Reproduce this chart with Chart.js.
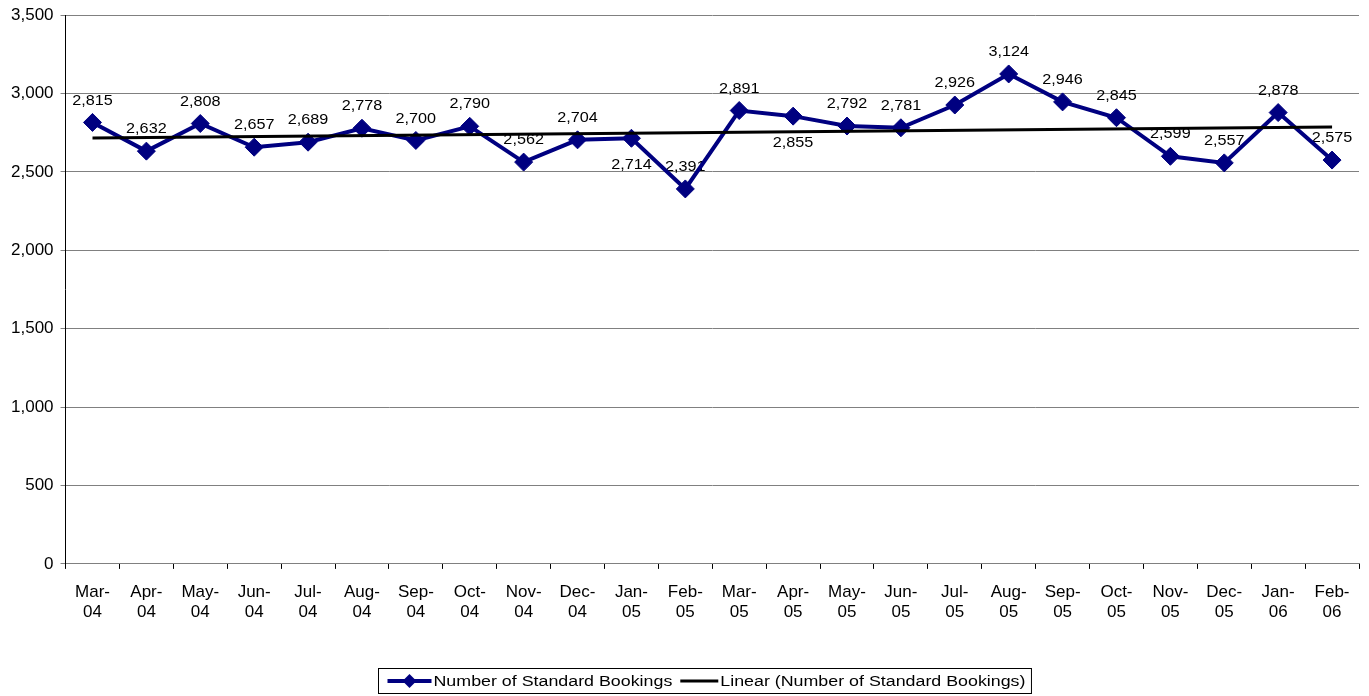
<!DOCTYPE html>
<html>
<head>
<meta charset="utf-8">
<script src="https://cdn.jsdelivr.net/npm/chart.js@4/dist/chart.umd.min.js"></script>
<style>
  html, body { margin: 0; padding: 0; background: #ffffff; }
  #wrap { width: 1369px; height: 696px; }
</style>
</head>
<body>
<div id="wrap"><canvas id="bookingsChart"></canvas></div>
<script>
// місяці (підписи осі X)
const months = [
    "Mar-04", "Apr-04", "May-04", "Jun-04", "Jul-04", "Aug-04",
    "Sep-04", "Oct-04", "Nov-04", "Dec-04", "Jan-05", "Feb-05",
    "Mar-05", "Apr-05", "May-05", "Jun-05", "Jul-05", "Aug-05",
    "Sep-05", "Oct-05", "Nov-05", "Dec-05", "Jan-06", "Feb-06",
];

// кількість стандартних бронювань
const bookings = [
    2815, 2632, 2808, 2657, 2689, 2778, 2700, 2790, 2562, 2704, 2714, 2391,
    2891, 2855, 2792, 2781, 2926, 3124, 2946, 2845, 2599, 2557, 2878, 2575,
];

// лінійний тренд: значення на початку і в кінці
const trendStart = 2716;
const trendEnd = 2786;

const yTicks = [0, 500, 1000, 1500, 2000, 2500, 3000, 3500];

const seriesLabel = "Number of Standard Bookings";
const trendLabel = "Linear (Number of Standard Bookings)";

const FONT = "Arial, 'Liberation Sans', sans-serif";

// текст трохи розтягнутий по горизонталі, як в оригіналі
function wideText(ctx, text, x, y, sx) {
    ctx.save();
    ctx.translate(x, y);
    ctx.scale(sx, 1);
    ctx.fillText(text, 0, 0);
    ctx.restore();
}

/**
 * Підписи значень над точками (малюються під лініями)
 */
const valueLabels = {
    id: "valueLabels",
    beforeDatasetsDraw(chart, args, opts) {
        const ctx = chart.ctx;
        const meta = chart.getDatasetMeta(0);
        ctx.save();
        ctx.font = `15px ${FONT}`;
        ctx.fillStyle = "#000000";
        ctx.textAlign = "center";
        ctx.textBaseline = "middle";
        meta.data.forEach((pt, i) => {
            const below = opts.below.includes(i);
            const dy = below ? 27 : -22;
            wideText(ctx, bookings[i].toLocaleString("en-US"), pt.x, pt.y + dy, 1.08);
        });
        ctx.restore();
    },
};

/**
 * Легенда знизу в рамці, як у Excel
 */
const boxLegend = {
    id: "boxLegend",
    afterDraw(chart, args, opts) {
        const ctx = chart.ctx;
        const sx = 1.15;
        ctx.save();
        ctx.font = `15.5px ${FONT}`;
        const w1 = ctx.measureText(seriesLabel).width * sx;
        const w2 = ctx.measureText(trendLabel).width * sx;
        const sample1 = 44, sample2 = 38;
        const total = 9 + sample1 + 2 + w1 + 8 + sample2 + 2 + w2 + 6;
        const x0 = opts.left + 0.5;
        const y0 = opts.top + 0.5;
        const h = 25;
        ctx.strokeStyle = "#000000";
        ctx.lineWidth = 1;
        ctx.strokeRect(x0, y0, total, h);
        const cy = y0 + h / 2;
        let x = x0 + 9;
        // серія з ромбом
        ctx.strokeStyle = "#000080";
        ctx.lineWidth = 4;
        ctx.beginPath();
        ctx.moveTo(x, cy);
        ctx.lineTo(x + sample1, cy);
        ctx.stroke();
        ctx.fillStyle = "#000080";
        ctx.beginPath();
        ctx.moveTo(x + sample1 / 2, cy - 7);
        ctx.lineTo(x + sample1 / 2 + 7, cy);
        ctx.lineTo(x + sample1 / 2, cy + 7);
        ctx.lineTo(x + sample1 / 2 - 7, cy);
        ctx.closePath();
        ctx.fill();
        x += sample1 + 2;
        ctx.fillStyle = "#000000";
        ctx.textBaseline = "middle";
        wideText(ctx, seriesLabel, x, cy + 1, sx);
        x += w1 + 8;
        // тренд
        ctx.strokeStyle = "#000000";
        ctx.lineWidth = 3;
        ctx.beginPath();
        ctx.moveTo(x, cy);
        ctx.lineTo(x + sample2, cy);
        ctx.stroke();
        x += sample2 + 2;
        wideText(ctx, trendLabel, x, cy + 1, sx);
        ctx.restore();
    },
};

const data = {
    labels: months,
    datasets: [
        {
            label: seriesLabel,
            data: bookings,
            borderColor: "#000080",
            backgroundColor: "#000080",
            borderWidth: 4,
            pointStyle: "rectRot",
            pointRadius: 9,
            pointBorderWidth: 1,
            tension: 0,
            order: 1,
        },
        {
            label: trendLabel,
            data: [
                { x: months[0], y: trendStart },
                { x: months[months.length - 1], y: trendEnd },
            ],
            borderColor: "#000000",
            borderWidth: 3,
            pointRadius: 0,
            order: 0,
        },
    ],
};

const options = {
    responsive: true,
    maintainAspectRatio: false,
    animation: false,
    layout: {
        padding: { top: 15, right: 7, bottom: 60, left: 4 },
    },
    plugins: {
        legend: { display: false },
        tooltip: { enabled: false },
        valueLabels: { below: [10, 13] },
        boxLegend: { left: 378, top: 668 },
    },
    scales: {
        x: {
            offset: true,
            grid: {
                offset: true,
                drawOnChartArea: false,
                color: "#000000",
                tickLength: 5,
            },
            border: { color: "#808080", width: 1 },
            afterFit: (scale) => {
                scale.paddingLeft = 0;
                scale.paddingRight = 0;
            },
            ticks: {
                color: "#000000",
                font: { size: 17, family: FONT, lineHeight: 1.15 },
                maxRotation: 0,
                autoSkip: false,
                padding: 14,
                callback: function (value) {
                    const l = this.getLabelForValue(value);
                    return [l.slice(0, 4), l.slice(4)];
                },
            },
        },
        y: {
            min: 0,
            max: 3500,
            afterBuildTicks: (axis) => {
                axis.ticks = yTicks.map((v) => ({ value: v }));
            },
            afterFit: (scale) => {
                scale.paddingTop = 0;
            },
            grid: {
                color: "#808080",
                tickLength: 5,
            },
            border: { color: "#000000", width: 1 },
            ticks: {
                color: "#000000",
                font: { size: 17, family: FONT },
                padding: 7,
                callback: (v) => v.toLocaleString("en-US"),
            },
        },
    },
};

new Chart(document.getElementById("bookingsChart").getContext("2d"), {
    type: "line",
    data: data,
    options: options,
    plugins: [valueLabels, boxLegend],
});
</script>
</body>
</html>
